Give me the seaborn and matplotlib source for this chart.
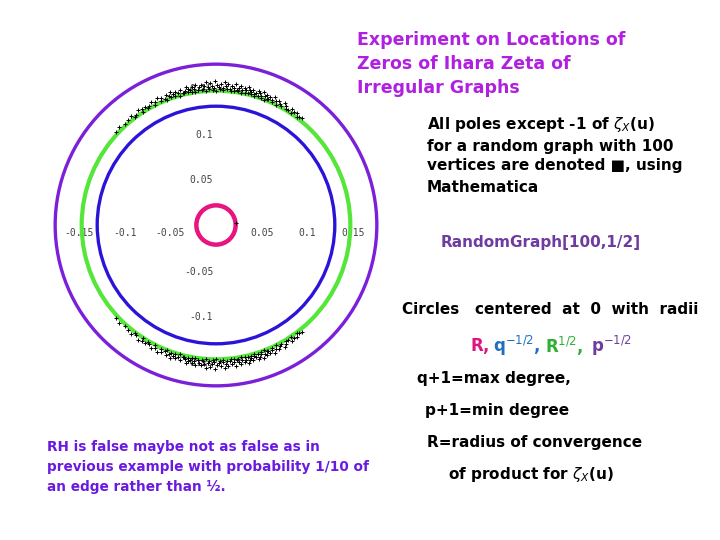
import matplotlib
matplotlib.use("Agg")
import matplotlib.pyplot as plt
import numpy as np
import pandas as pd
import seaborn as sns
from matplotlib.patches import Circle

# radii of the reference circles: R, q^-1/2, R^1/2, p^-1/2
circle_names = ["R", "q^-1/2", "R^1/2", "p^-1/2"]
circle_radii = [0.0215, 0.130, 0.147, 0.176]
circle_colors = ["#e8147f", "#2b14d8", "#55e63a", "#7b1fd8"]
circle_widths = [3.2, 2.4, 3.0, 2.4]

# poles in the upper half plane (angle in degrees, modulus); lower half are conjugates
pole_angles = [51.0, 52.5, 54.0, 55.5, 57.0, 58.0, 59.5, 60.5, 62.0, 63.0,
               64.0, 65.0, 66.0, 67.0, 67.8, 68.5, 69.3, 70.0, 70.8, 71.5,
               72.3, 73.0, 73.8, 74.5, 75.2, 76.0, 76.7, 77.5, 78.2, 79.0,
               79.8, 80.5, 81.2, 82.0, 82.7, 83.5, 84.2, 85.0, 85.7, 86.5,
               87.2, 88.0, 88.7, 89.5, 90.2, 91.0, 91.7, 92.5, 93.2, 94.0,
               94.8, 95.5, 96.3, 97.0, 97.8, 98.5, 99.3, 100.0, 100.8, 101.5,
               102.3, 103.0, 104.0, 105.0, 106.0, 107.0, 108.0, 109.0, 110.0, 111.0,
               112.0, 113.5, 115.0, 116.5, 118.0, 119.5, 121.0, 122.5, 124.0, 126.0,
               128.0, 130.0, 132.0, 134.5, 137.0]
pole_moduli = [0.150, 0.149, 0.151, 0.150, 0.152, 0.149, 0.151, 0.153, 0.150, 0.152,
               0.151, 0.154, 0.150, 0.152, 0.149, 0.153, 0.151, 0.155, 0.150, 0.152,
               0.154, 0.151, 0.149, 0.153, 0.150, 0.152, 0.155, 0.151, 0.153, 0.150,
               0.154, 0.152, 0.149, 0.156, 0.151, 0.153, 0.150, 0.155, 0.152, 0.157,
               0.150, 0.154, 0.151, 0.153, 0.158, 0.150, 0.152, 0.155, 0.151, 0.157,
               0.153, 0.150, 0.154, 0.152, 0.149, 0.155, 0.151, 0.153, 0.150, 0.152,
               0.154, 0.151, 0.149, 0.153, 0.150, 0.152, 0.151, 0.154, 0.150, 0.152,
               0.149, 0.151, 0.153, 0.150, 0.152, 0.149, 0.151, 0.150, 0.152, 0.149,
               0.151, 0.150, 0.149, 0.151, 0.150]
# second, inner batch of poles lying on the green circle
pole_angles_b = [53.2, 56.3, 59.0, 61.3, 63.6, 65.5, 67.4, 69.0, 70.4, 71.9,
                 73.4, 74.9, 76.3, 77.8, 79.4, 80.9, 82.4, 83.8, 85.3, 86.9,
                 88.4, 89.8, 91.4, 92.9, 94.4, 95.9, 97.4, 98.9, 100.4, 101.9,
                 103.5, 105.5, 107.5, 109.5, 111.5, 114.0, 117.0, 120.0, 123.0, 127.0]
pole_moduli_b = [0.148, 0.147, 0.148, 0.149, 0.147, 0.148, 0.149, 0.147, 0.148, 0.149,
                 0.147, 0.148, 0.149, 0.148, 0.147, 0.149, 0.148, 0.147, 0.149, 0.148,
                 0.149, 0.147, 0.148, 0.149, 0.147, 0.148, 0.149, 0.147, 0.148, 0.149,
                 0.148, 0.147, 0.148, 0.149, 0.147, 0.148, 0.147, 0.148, 0.147, 0.148]
# the real pole near R
extra_x = [0.0215]
extra_y = [0.002]

tick_vals = [-0.15, -0.1, -0.05, 0.05, 0.1, 0.15]
tick_labels = ["-0.15", "-0.1", "-0.05", "0.05", "0.1", "0.15"]

sns.set_style("white")
plt.rcParams['font.family'] = ['DejaVu Sans']

th = np.deg2rad(pole_angles + pole_angles_b)
r = np.array(pole_moduli + pole_moduli_b)
poles = pd.DataFrame({
    "x": np.concatenate([r * np.cos(th), r * np.cos(th), extra_x]),
    "y": np.concatenate([r * np.sin(th), -r * np.sin(th), extra_y]),
})

fig = plt.figure(figsize=(7.2, 5.4), dpi=100)
ax = fig.add_axes([40 / 720, 140 / 540, 352 / 720, 350 / 540])

for rad, col, lw in zip(circle_radii, circle_colors, circle_widths):
    ax.add_patch(Circle((0, 0), rad, fill=False, ec=col, lw=lw, zorder=2))

sns.scatterplot(data=poles, x="x", y="y", marker="+", color="black", s=12,
                linewidth=0.7, ax=ax, zorder=3)

ax.set_xlim(-0.1926, 0.1926)
ax.set_ylim(-0.1915, 0.1915)
ax.set_xlabel("")
ax.set_ylabel("")
for side in ["top", "right"]:
    ax.spines[side].set_visible(False)
for side in ["left", "bottom"]:
    ax.spines[side].set_position(("data", 0))
    ax.spines[side].set_color("none")
ax.set_xticks(tick_vals)
ax.set_xticklabels(tick_labels)
ax.set_yticks(tick_vals)
ax.set_yticklabels(tick_labels)
ax.tick_params(axis="both", length=2.5, width=0.6, color="#999999", direction="in",
               labelsize=7, labelcolor="#444444", pad=2)
for lab in ax.get_xticklabels() + ax.get_yticklabels():
    lab.set_family("DejaVu Sans Mono")


def put(x, y, s, color="black", size=11, **kw):
    fig.text(x / 720, 1 - y / 540, s, color=color, fontsize=size,
             fontweight="bold", va="center", ha=kw.pop("ha", "left"), **kw)


title_color = "#b020e0"
put(357, 40, "Experiment on Locations of", title_color, 12.5)
put(357, 64, "Zeros of Ihara Zeta of", title_color, 12.5)
put(357, 88, "Irregular Graphs", title_color, 12.5)

put(427, 125, r"All poles except -1 of $\zeta_X$(u)", size=11)
put(427, 146, "for a random graph with 100", size=11)
put(427, 166, "vertices are denoted \u25a0, using", size=11)
put(427, 187, "Mathematica", size=11)

put(441, 242, "RandomGraph[100,1/2]", "#6e3ca0", 11)

put(402, 310, "Circles   centered  at  0  with  radii", size=11)
put(471, 346, "R,", "#e0147f", 12)
put(493, 346, r"q$^{-1/2}$,", "#1f6fc0", 12)
put(545, 346, r"R$^{1/2}$,", "#30b030", 12)
put(591, 346, r"p$^{-1/2}$", "#6e3ca0", 12)
put(417, 379, "q+1=max degree,", size=11)
put(425, 410, "p+1=min degree", size=11)
put(427, 442, "R=radius of convergence", size=11)
put(448, 474, r"of product for $\zeta_X$(u)", size=11)

lc = "#6a1ae0"
put(47, 447, "RH is false maybe not as false as in", lc, 9.8)
put(47, 467, "previous example with probability 1/10 of", lc, 9.8)
put(47, 487, "an edge rather than \u00bd.", lc, 9.8)

fig.savefig("out.png", dpi=100, facecolor="white")
